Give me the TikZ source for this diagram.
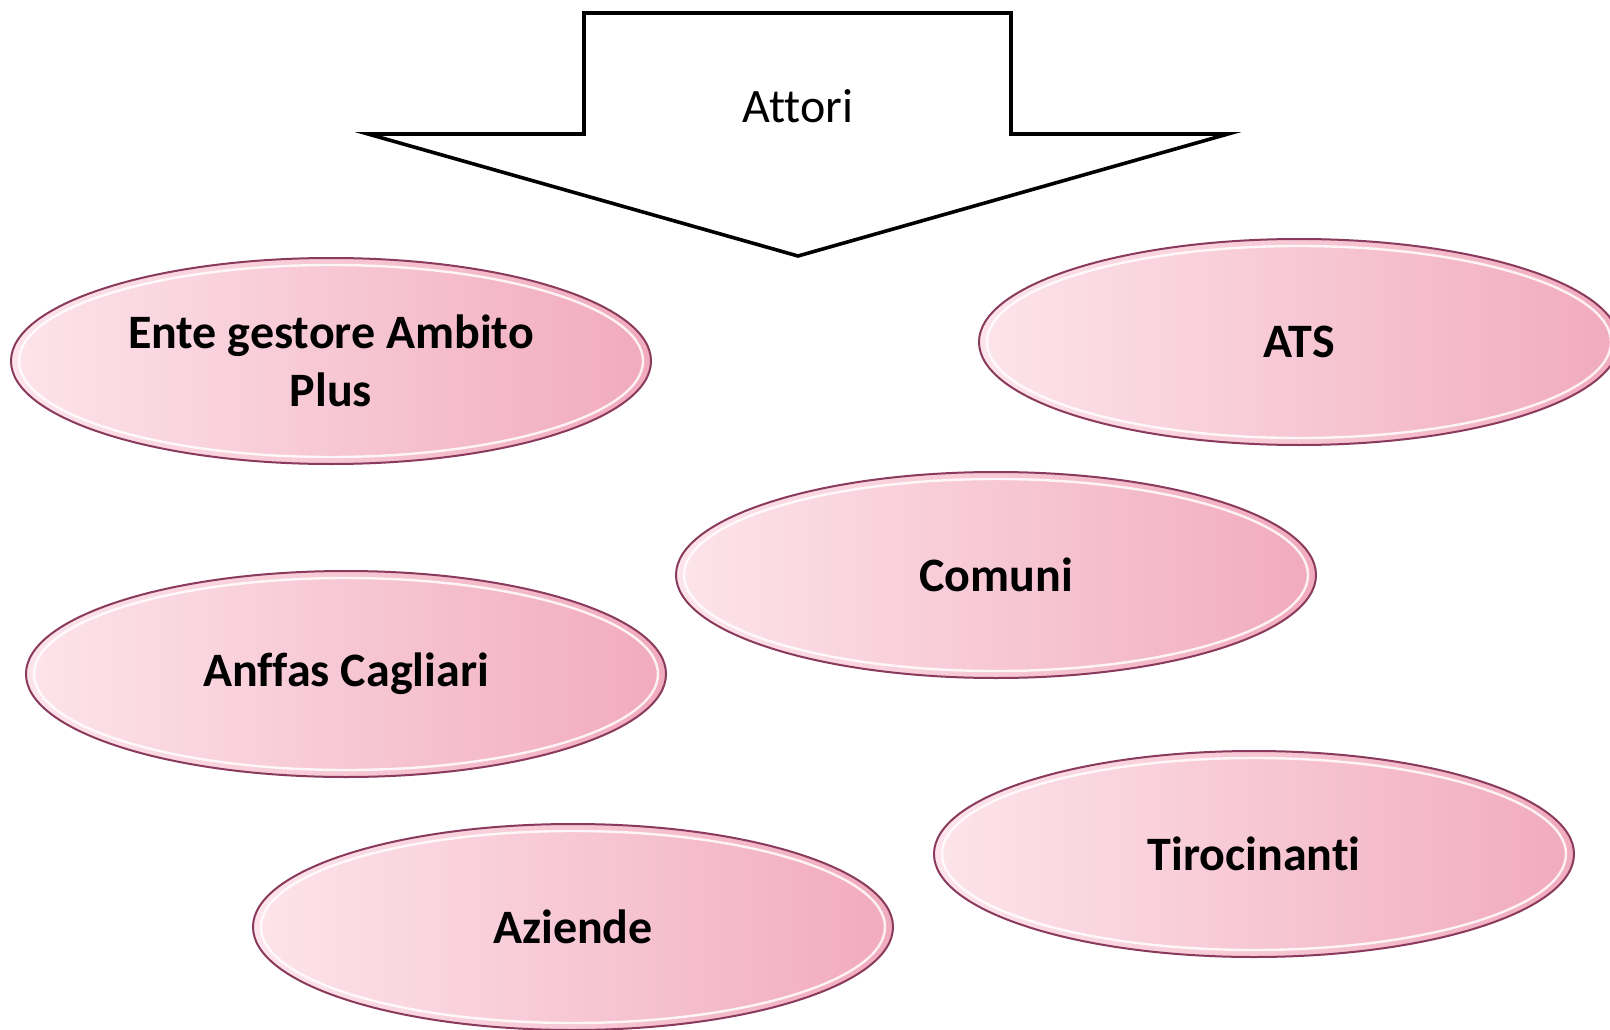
\documentclass[tikz,border=0pt]{standalone}
\usepackage{fontspec}
\setmainfont{Carlito}[Ligatures=NoCommon]
\usetikzlibrary{shapes.geometric,shadings}
\definecolor{pinkL}{HTML}{FDE4EB}
\definecolor{pinkR}{HTML}{F1ABBE}
\definecolor{rim}{HTML}{8A3A5C}
\tikzset{
  actor/.style={ellipse, minimum width=640pt, minimum height=206pt, inner sep=0pt,
    left color=pinkL, right color=pinkR, draw=rim, line width=2pt,
    font=\fontsize{48}{58}\selectfont\bfseries, align=center, text=black},
  gloss/.style={draw=white, line width=2.4pt, opacity=0.85},
  bigarrow/.style={draw=black, line width=3.6pt, fill=white, line join=miter},
}
\begin{document}
\begin{tikzpicture}[x=1pt,y=-1pt]
\useasboundingbox (0,0) rectangle (1610,1030);
\fill[white] (0,0) rectangle (1610,1030);
% arrow
\draw[bigarrow] (584,13) -- (1011,13) -- (1011,134) -- (1228,134) -- (798,256) -- (368,134) -- (584,134) -- cycle;
\node[font=\fontsize{48}{56}\selectfont] (attori) at (798,106) {Attori};
% actors
\foreach \n/\x/\y/\t in {ente/331/361/{Ente gestore Ambito\\Plus}, ats/1299/342/ATS, comuni/996/575/Comuni, anffas/346/674/Anffas Cagliari, tiro/1254/854/Tirocinanti, aziende/573/927/Aziende}{
  \node[actor] (\n) at (\x,\y) {\t};
  \draw[gloss] (\x,\y) ellipse [x radius=312pt, y radius=96pt];
}
\end{tikzpicture}
\end{document}
